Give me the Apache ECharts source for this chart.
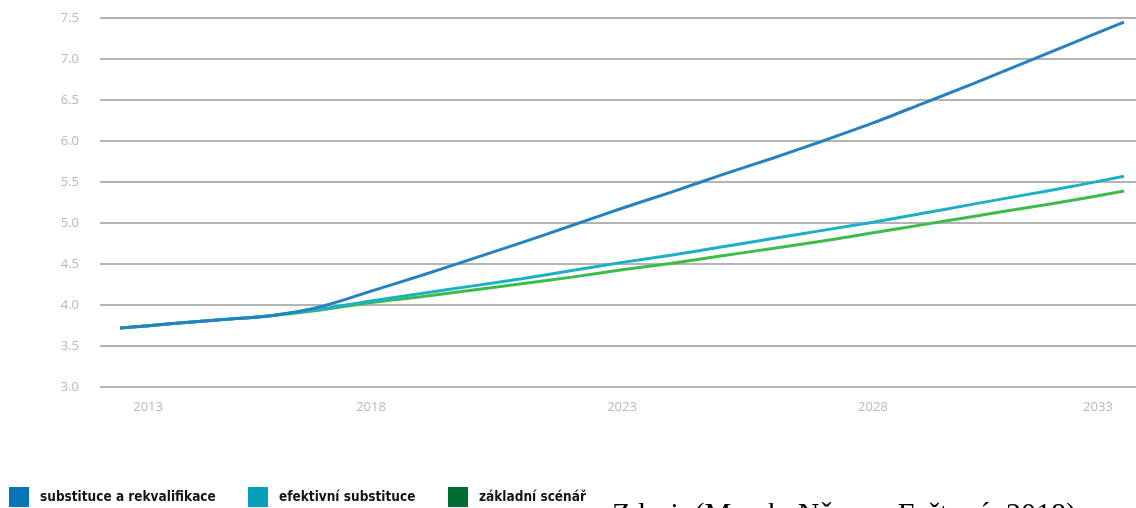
<!DOCTYPE html>
<html>
<head>
<meta charset="utf-8">
<script src="https://cdn.jsdelivr.net/npm/echarts@6/dist/echarts.min.js"></script>
<style>
  html, body { margin: 0; padding: 0; background: #ffffff; }
  #chart { width: 1136px; height: 508px; }
</style>
</head>
<body>
<div id="chart"></div>
<script>
// Years of the projection
const years = [2013, 2014, 2015, 2016, 2017, 2018, 2019, 2020, 2021, 2022, 2023,
               2024, 2025, 2026, 2027, 2028, 2029, 2030, 2031, 2032, 2033];

// Scenario values
const substituceRekvalifikace = [3.72, 3.77, 3.82, 3.87, 3.98, 4.17, 4.36, 4.56, 4.76, 4.97, 5.18,
                                 5.38, 5.59, 5.79, 6.00, 6.22, 6.46, 6.70, 6.95, 7.20, 7.45];
const efektivniSubstituce     = [3.72, 3.77, 3.82, 3.87, 3.95, 4.05, 4.14, 4.23, 4.32, 4.42, 4.52,
                                 4.61, 4.71, 4.81, 4.91, 5.01, 5.12, 5.23, 5.34, 5.45, 5.57];
const zakladniScenar          = [3.72, 3.77, 3.82, 3.87, 3.94, 4.03, 4.10, 4.18, 4.26, 4.34, 4.43,
                                 4.51, 4.60, 4.69, 4.78, 4.88, 4.98, 5.08, 5.18, 5.28, 5.39];

// Tick labels
const xTickYears = [2013, 2018, 2023, 2028, 2033];
const seriesNames = ['substituce a rekvalifikace', 'efektivní substituce', 'základní scénář'];
const sourceText = 'Zdroj: (Marek, Němec, Fořtová, 2018)';

const lineColors = ['#2680c2', '#1cb0c6', '#3dbb4b'];
const legendColors = ['#0a74b9', '#07a0ba', '#006c31'];

const pairs = arr => years.map((y, i) => [y, arr[i]]);

const chart = echarts.init(document.getElementById('chart'), null, { renderer: 'canvas' });

const legendLefts = [9, 248, 448];

chart.setOption({
  animation: false,
  backgroundColor: '#ffffff',
  grid: { left: 100, right: 0, top: 18, bottom: 121 },
  xAxis: {
    type: 'value',
    min: 2012.6,
    max: 2033.24,
    splitLine: { show: false },
    axisLine: { show: false },
    axisTick: { show: false },
    axisLabel: {
      customValues: xTickYears,
      margin: 14,
      color: '#b8b8b8',
      fontFamily: 'Open Sans',
      fontSize: 13,
      formatter: v => {
        if (v === xTickYears[0]) return '{first|' + v + '}';
        if (v === xTickYears[xTickYears.length - 1]) return '{last|' + v + '}';
        return String(v);
      },
      rich: {
        first: { padding: [0, 0, 0, 56], color: '#b8b8b8', fontFamily: 'Open Sans', fontSize: 13 },
        last: { padding: [0, 52, 0, 0], color: '#b8b8b8', fontFamily: 'Open Sans', fontSize: 13 }
      }
    }
  },
  yAxis: {
    type: 'value',
    min: 3,
    max: 7.5,
    interval: 0.5,
    axisLine: { show: false },
    axisTick: { show: false },
    axisLabel: {
      margin: 21,
      color: '#b8b8b8',
      fontFamily: 'Open Sans',
      fontSize: 13,
      formatter: v => v.toFixed(1)
    },
    splitLine: { lineStyle: { color: '#b4b4b4', width: 2 } }
  },
  legend: seriesNames.map((name, i) => ({
    data: [{ name: name, itemStyle: { color: legendColors[i] } }],
    left: legendLefts[i],
    top: 487,
    padding: 0,
    icon: 'rect',
    itemWidth: 20,
    itemHeight: 20,
    selectedMode: false,
    textStyle: {
      fontFamily: 'DejaVu Sans Condensed',
      fontWeight: 'bold',
      fontSize: 13.5,
      color: '#141414',
      padding: [0, 0, 0, 6]
    }
  })),
  // Source line below the chart, running off the bottom edge of the canvas
  graphic: [{
    type: 'text',
    left: 612,
    top: 500,
    silent: true,
    style: {
      text: sourceText,
      fontFamily: 'Liberation Serif',
      fontSize: 30,
      fill: '#000000'
    }
  }],
  series: [
    { name: seriesNames[2], data: pairs(zakladniScenar), color: lineColors[2] },
    { name: seriesNames[1], data: pairs(efektivniSubstituce), color: lineColors[1] },
    { name: seriesNames[0], data: pairs(substituceRekvalifikace), color: lineColors[0] }
  ].map(s => ({
    type: 'line',
    name: s.name,
    data: s.data,
    showSymbol: false,
    smooth: 0.3,
    lineStyle: { width: 3, color: s.color },
    itemStyle: { color: s.color }
  }))
});
</script>
</body>
</html>
